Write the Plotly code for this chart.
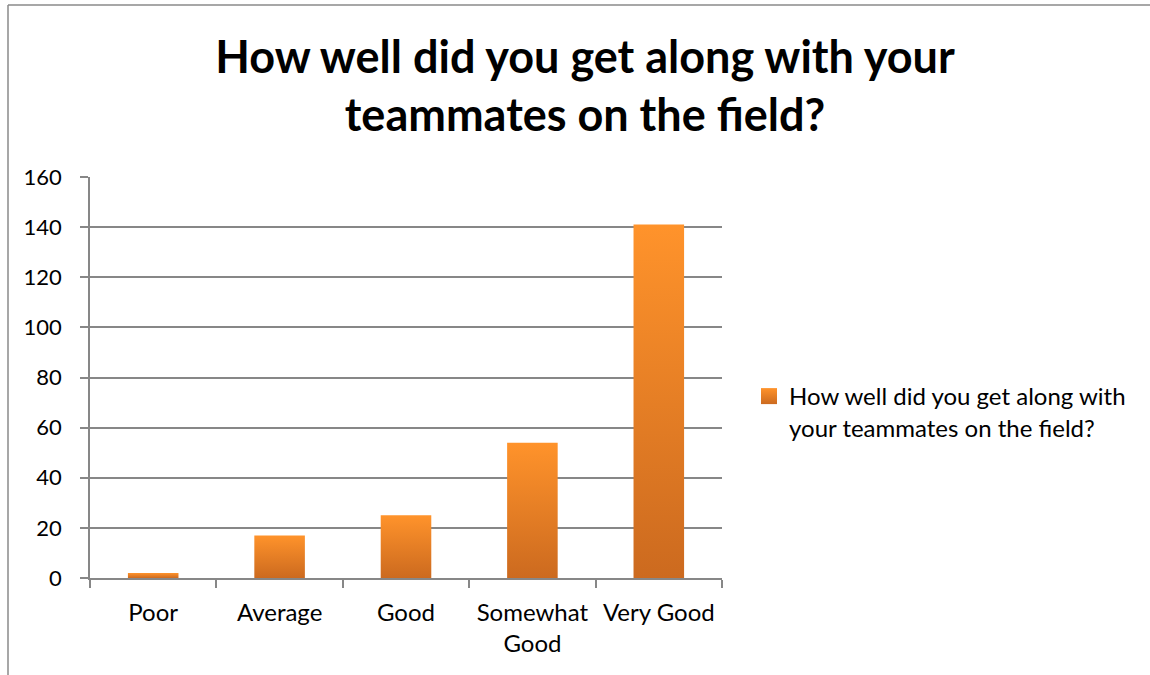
import plotly.graph_objects as go

categories = ["Poor", "Average", "Good", "Somewhat<br>Good", "Very Good"]
counts = [2, 17, 25, 54, 141]
series_name = "How well did you get along with<br>your teammates on the field?"
title_text = "How well did you get along with your<br>teammates on the field?"
y_ticks = [0, 20, 40, 60, 80, 100, 120, 140, 160]

BAR_HALF = 0.2          # 40% of each category slot
TOP_COLOR = "#FF932B"
BOTTOM_COLOR = "#CC6A1F"
GRID = "#878787"
FONT = "Lato"

fig = go.Figure()

# each bar is a filled polygon so it can carry a vertical gradient
for i, (cat, val) in enumerate(zip(categories, counts)):
    xs = [i - BAR_HALF, i + BAR_HALF, i + BAR_HALF, i - BAR_HALF, i - BAR_HALF]
    ys = [0, 0, val, val, 0]
    fig.add_trace(go.Scatter(
        x=xs, y=ys, mode="lines", fill="toself",
        line=dict(width=0, color=TOP_COLOR),
        fillgradient=dict(type="vertical",
                          colorscale=[[0, BOTTOM_COLOR], [1, TOP_COLOR]]),
        name=series_name, legendgroup="s", showlegend=False,
        hoveron="fills", text=f"{cat.replace('<br>', ' ')}: {val}", hoverinfo="text",
    ))

# legend entry for the series (square gradient swatch)
fig.add_trace(go.Scatter(
    x=[None], y=[None], mode="markers", name=series_name, legendgroup="s",
    marker=dict(symbol="square", size=16, color=TOP_COLOR,
                gradient=dict(type="vertical", color=BOTTOM_COLOR),
                line=dict(width=0)),
    showlegend=True, hoverinfo="skip",
))

# plot-area geometry in pixels, used for the outer frame
W, H = 1150, 675
L, R, T, B = 90, 428, 177, 97
pw, ph = W - L - R, H - T - B
def px(x):
    return (x - L) / pw
def py(y):
    return (H - B - y) / ph

fig.update_layout(
    width=W, height=H,
    margin=dict(l=L, r=R, t=T, b=B),
    paper_bgcolor="white", plot_bgcolor="white",
    font=dict(family=FONT, color="#000000", size=24),
    title=dict(text=title_text, x=585 / W, xanchor="center", xref="container",
               y=1 - 72.5 / H, yanchor="middle", yref="container",
               font=dict(family=FONT, size=45, color="#000000", weight="bold")),
    showlegend=True,
    legend=dict(x=749 / W, xanchor="left", xref="container",
                y=1 - 412 / H, yanchor="middle", yref="container",
                font=dict(family=FONT, size=24, color="#000000"),
                bgcolor="rgba(0,0,0,0)", itemwidth=30, valign="top"),
    xaxis=dict(range=[-0.5, 4.5], tickmode="array", tickvals=list(range(len(categories))),
               ticktext=categories, ticks="", showgrid=False, zeroline=False,
               showline=True, linecolor=GRID, linewidth=1.5,
               ticklabelstandoff=12, tickfont=dict(size=24),
               minor=dict(tickmode="linear", tick0=-0.5, dtick=1, ticks="outside",
                          ticklen=8, tickcolor=GRID, tickwidth=1.5, showgrid=False),
               fixedrange=True),
    yaxis=dict(range=[0, 160], tickmode="array", tickvals=y_ticks,
               ticks="outside", ticklen=8, tickcolor=GRID, tickwidth=1.5,
               showgrid=True, gridcolor=GRID, gridwidth=1.5,
               zeroline=False, showline=True, linecolor=GRID, linewidth=1.5,
               ticklabelstandoff=14, tickfont=dict(size=22), fixedrange=True),
    shapes=[
        dict(type="line", xref="paper", yref="paper", x0=px(8), x1=px(W + 5),
             y0=py(5), y1=py(5), line=dict(color="#8a8a8a", width=1.5)),
        dict(type="line", xref="paper", yref="paper", x0=px(8), x1=px(8),
             y0=py(5), y1=py(H + 5), line=dict(color="#8a8a8a", width=1.5)),
    ],
)

fig.write_html("out.html")
